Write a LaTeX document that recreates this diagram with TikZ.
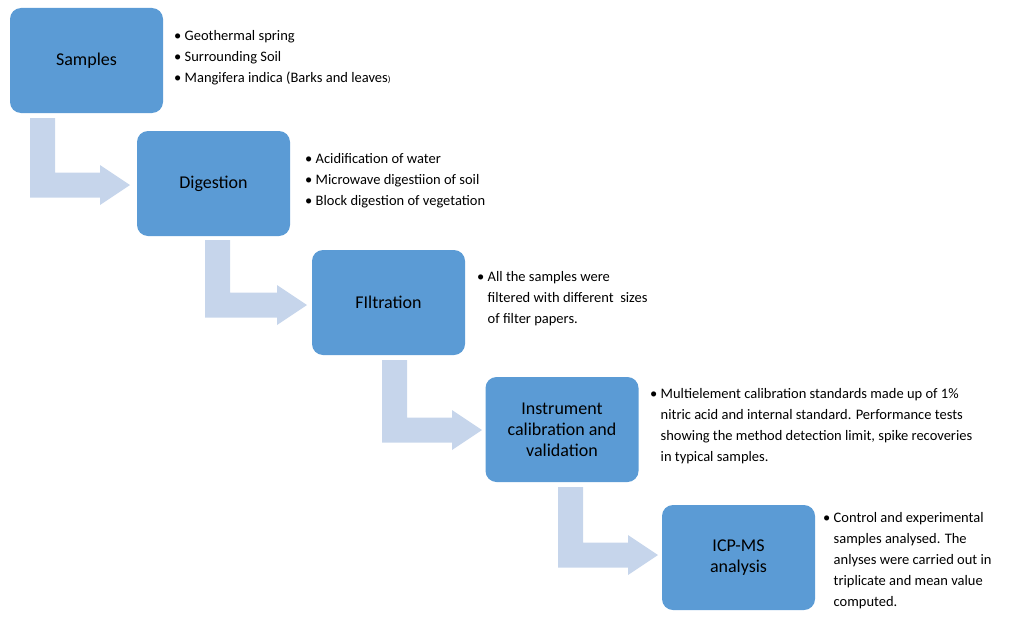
\documentclass[tikz,border=0pt]{standalone}
\usepackage{fontspec}
\setmainfont{Carlito}
\definecolor{boxc}{HTML}{5B9BD5}
\definecolor{arr}{HTML}{C6D5EB}
\begin{document}
\begin{tikzpicture}[x=1pt,y=-1pt,
  box/.style={fill=boxc,rounded corners=11pt,minimum width=153pt,minimum height=105pt,align=center,font=\fontsize{18}{21}\selectfont,inner sep=0pt},
  txt/.style={anchor=north west,align=left,font=\fontsize{14.5}{21}\selectfont,inner sep=0pt}]
\useasboundingbox (0,0) rectangle (1024,618);
\newcommand{\barr}[4]{% bar left x, top y, center y, tip x
  \fill[arr] (#1,#2) -- (#1+25,#2) -- (#1+25,#3-12.5) -- (#4-30,#3-12.5) -- (#4-30,#3-20) -- (#4,#3) -- (#4-30,#3+20) -- (#4-30,#3+12.5) -- (#1,#3+12.5) -- cycle;}
\barr{30}{118}{185}{130}
\barr{205}{240}{305}{307}
\barr{382}{360}{430}{482}
\barr{558}{487}{555}{658}
\node[box] (s) at (86.5,60.5) {Samples};
\node[box] (d) at (213.5,183.5) {Digestion};
\node[box] (f) at (388.5,302.5) {FIltration};
\node[box] (i) at (562,429.5) {Instrument\\calibration and\\validation};
\node[box] (m) at (738.5,557.5) {ICP-MS\\analysis};
\node[txt] (ts) at (174,30) {\textbullet\ Geothermal spring\\\textbullet\ Surrounding Soil\\\textbullet\ Mangifera indica (Barks and leaves{\small)}};
\node[txt] (td) at (305,153) {\textbullet\ Acidification of water\\\textbullet\ Microwave digestiion of soil\\\textbullet\ Block digestion of vegetation};
\node[txt] (tf) at (477,271) {\textbullet\ All the samples were\\\phantom{\textbullet\ }filtered with different\ \ sizes\\\phantom{\textbullet\ }of filter papers.};
\node[txt] (ti) at (650,388) {\textbullet\ Multielement calibration standards made up of 1\%\\\phantom{\textbullet\ }nitric acid and internal standard. Performance tests\\\phantom{\textbullet\ }showing the method detection limit, spike recoveries\\\phantom{\textbullet\ }in typical samples.};
\node[txt] (tm) at (823,512) {\textbullet\ Control and experimental\\\phantom{\textbullet\ }samples analysed. The\\\phantom{\textbullet\ }anlyses were carried out in\\\phantom{\textbullet\ }triplicate and mean value\\\phantom{\textbullet\ }computed.};
\end{tikzpicture}
\end{document}
